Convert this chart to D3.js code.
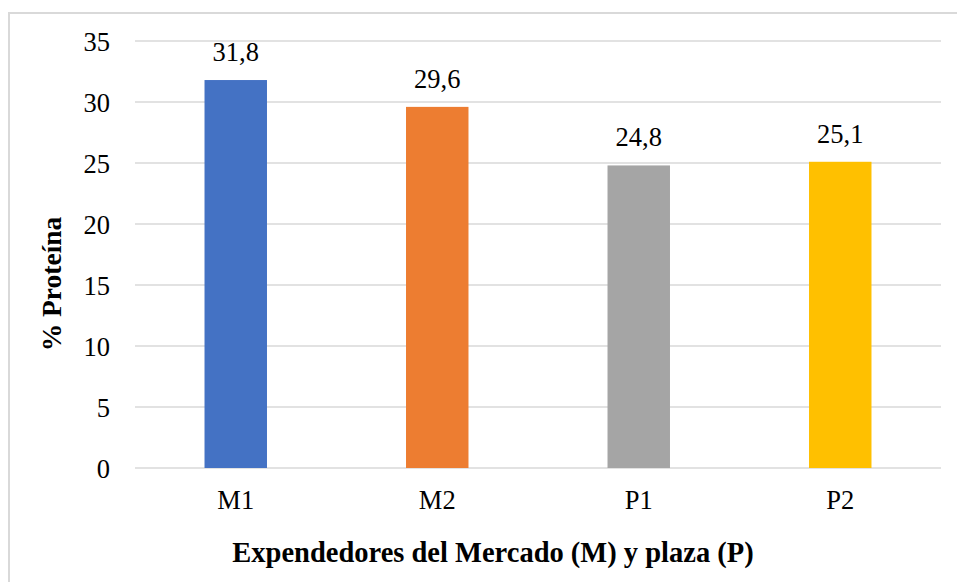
<!DOCTYPE html>
<html>
<head>
<meta charset="utf-8">
<script src="https://cdn.jsdelivr.net/npm/d3@7"></script>
<style>
  html, body { margin: 0; padding: 0; background: #fff; }
  svg { display: block; }
</style>
</head>
<body>
<svg id="chart" width="957" height="582"></svg>
<script>
// Protein content per vendor
const categories = ["M1", "M2", "P1", "P2"];
const values = [31.8, 29.6, 24.8, 25.1];
const colors = ["#4472C4", "#ED7D31", "#A5A5A5", "#FFC000"];
const yTicks = [0, 5, 10, 15, 20, 25, 30, 35];
const xTitle = "Expendedores del Mercado (M) y plaza (P)";
const yTitle = "% Proteína";

const W = 957, H = 582;
const margin = { left: 135, right: 16, top: 41, bottom: 114 };
const plotW = W - margin.left - margin.right;
const plotH = H - margin.top - margin.bottom;
const font = "'Liberation Serif', 'Times New Roman', serif";

const svg = d3.select("#chart");

// outer chart frame
svg.append("rect")
  .attr("x", 9).attr("y", 13)
  .attr("width", W).attr("height", H)
  .attr("fill", "none").attr("stroke", "#d9d9d9").attr("stroke-width", 2);

const g = svg.append("g").attr("transform", `translate(${margin.left},${margin.top})`);

const x = d3.scaleBand().domain(categories).range([0, plotW]).paddingInner(0.69).paddingOuter(0.345);
const y = d3.scaleLinear().domain([0, 35]).range([plotH, 0]);

// horizontal gridlines
g.append("g").selectAll("line").data(yTicks).join("line")
  .attr("x1", 0).attr("x2", plotW)
  .attr("y1", d => y(d)).attr("y2", d => y(d))
  .attr("stroke", "#d9d9d9").attr("stroke-width", 1.5);

// y axis tick labels
const yAxis = d3.axisLeft(y).tickValues(yTicks).tickSize(0).tickPadding(25).tickFormat(d3.format("d"));
g.append("g").call(yAxis)
  .call(s => s.select(".domain").remove())
  .selectAll("text")
  .attr("font-family", font).attr("font-size", 26.5).attr("fill", "#000")
  .attr("dy", "0.34em");

// bars
g.append("g").selectAll("rect").data(values).join("rect")
  .attr("x", (d, i) => x(categories[i]))
  .attr("y", d => y(d))
  .attr("width", x.bandwidth())
  .attr("height", d => plotH - y(d))
  .attr("fill", (d, i) => colors[i]);

// value labels
g.append("g").selectAll("text").data(values).join("text")
  .attr("x", (d, i) => x(categories[i]) + x.bandwidth() / 2)
  .attr("y", d => y(d) - 19)
  .attr("text-anchor", "middle")
  .attr("font-family", font).attr("font-size", 26.5).attr("fill", "#000")
  .text(d => d3.format(".1f")(d).replace(".", ","));

// x axis category labels
const xAxis = d3.axisBottom(x).tickSize(0).tickPadding(22);
g.append("g").attr("transform", `translate(0,${plotH})`).call(xAxis)
  .call(s => s.select(".domain").remove())
  .selectAll("text")
  .attr("font-family", font).attr("font-size", 26.5).attr("fill", "#000");

// axis titles
svg.append("text")
  .attr("x", 493).attr("y", 562)
  .attr("text-anchor", "middle")
  .attr("font-family", font).attr("font-size", 28.5).attr("font-weight", "bold")
  .text(xTitle);

svg.append("text")
  .attr("transform", `translate(61,284) rotate(-90)`)
  .attr("text-anchor", "middle")
  .attr("font-family", font).attr("font-size", 27.5).attr("font-weight", "bold")
  .text(yTitle);
</script>
</body>
</html>
